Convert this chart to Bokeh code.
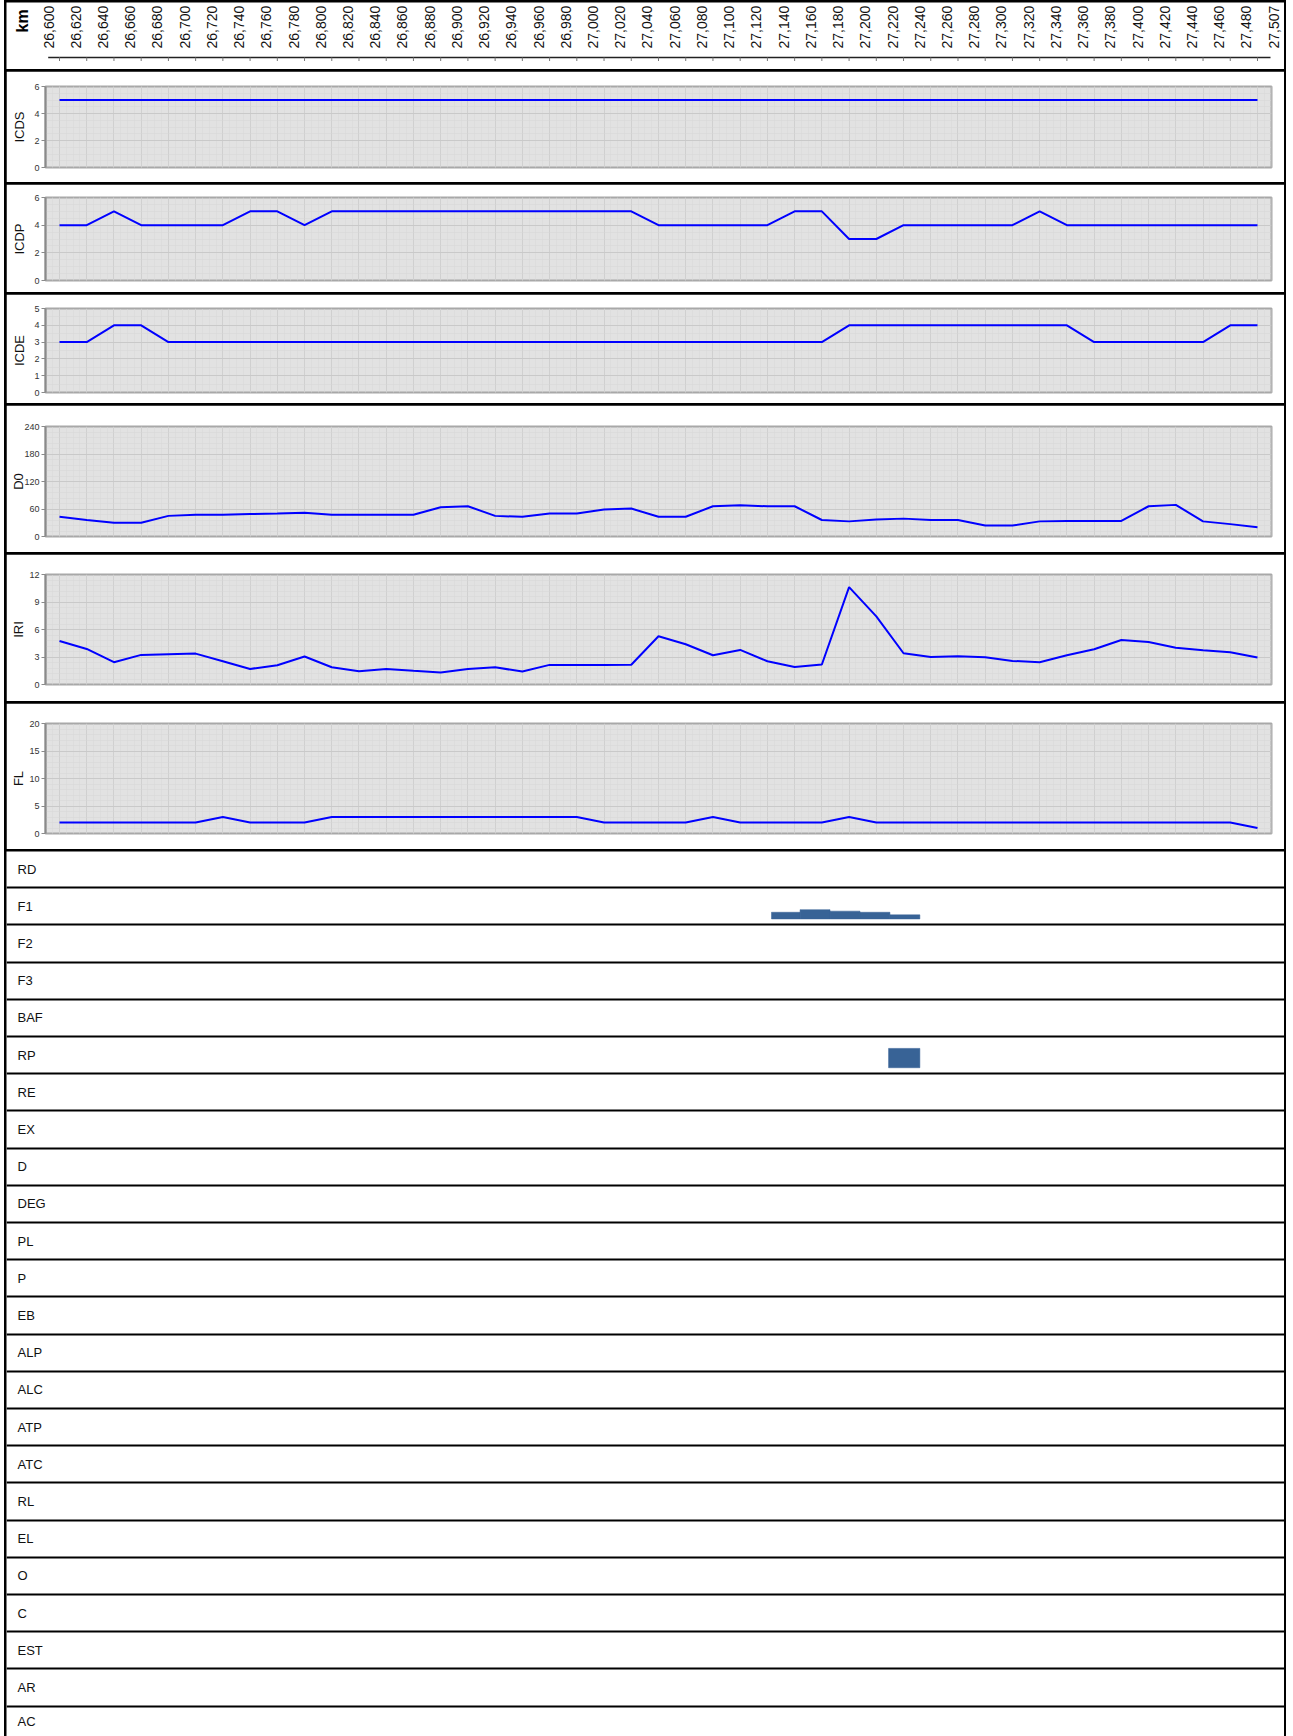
import math
from bokeh.plotting import figure
from bokeh.layouts import column
from bokeh.models import Range1d, FixedTicker, Grid
from bokeh.core.properties import value
from bokeh.embed import file_html
from bokeh.resources import INLINE

# ---------------- data ----------------
KM = [26600, 26620, 26640, 26660, 26680, 26700, 26720, 26740, 26760, 26780,
      26800, 26820, 26840, 26860, 26880, 26900, 26920, 26940, 26960, 26980,
      27000, 27020, 27040, 27060, 27080, 27100, 27120, 27140, 27160, 27180,
      27200, 27220, 27240, 27260, 27280, 27300, 27320, 27340, 27360, 27380,
      27400, 27420, 27440, 27460, 27480]

KM_LABELS = ["26,600", "26,620", "26,640", "26,660", "26,680", "26,700", "26,720", "26,740",
             "26,760", "26,780", "26,800", "26,820", "26,840", "26,860", "26,880", "26,900",
             "26,920", "26,940", "26,960", "26,980", "27,000", "27,020", "27,040", "27,060",
             "27,080", "27,100", "27,120", "27,140", "27,160", "27,180", "27,200", "27,220",
             "27,240", "27,260", "27,280", "27,300", "27,320", "27,340", "27,360", "27,380",
             "27,400", "27,420", "27,440", "27,460", "27,480", "27,507"]

ICDS = [5, 5, 5, 5, 5, 5, 5, 5, 5, 5, 5, 5, 5, 5, 5, 5, 5, 5, 5, 5, 5, 5, 5,
        5, 5, 5, 5, 5, 5, 5, 5, 5, 5, 5, 5, 5, 5, 5, 5, 5, 5, 5, 5, 5, 5]
ICDP = [4, 4, 5, 4, 4, 4, 4, 5, 5, 4, 5, 5, 5, 5, 5, 5, 5, 5, 5, 5, 5, 5, 4,
        4, 4, 4, 4, 5, 5, 3, 3, 4, 4, 4, 4, 4, 5, 4, 4, 4, 4, 4, 4, 4, 4]
ICDE = [3, 3, 4, 4, 3, 3, 3, 3, 3, 3, 3, 3, 3, 3, 3, 3, 3, 3, 3, 3, 3, 3, 3,
        3, 3, 3, 3, 3, 3, 4, 4, 4, 4, 4, 4, 4, 4, 4, 3, 3, 3, 3, 3, 4, 4]
D0 = [43, 36, 30, 30, 45, 47.5, 47.5, 49, 50, 52, 47.5, 47.5, 47.5, 47.5, 64,
      66, 45, 43, 50, 50, 59, 61, 43, 43, 66, 68, 66, 66, 36, 33,
      37, 39, 36, 36, 24, 24, 33, 34, 34, 34, 66, 69, 33, 27, 20]
IRI = [4.75, 3.88, 2.43, 3.23, 3.30, 3.37, 2.54, 1.70, 2.10, 3.05,
       1.88, 1.45, 1.70, 1.49, 1.30, 1.70, 1.88, 1.41, 2.14, 2.14,
       2.14, 2.16, 5.26, 4.39, 3.19, 3.77, 2.54, 1.92, 2.18, 10.62,
       7.43, 3.41, 3.00, 3.08, 2.97, 2.57, 2.43, 3.19, 3.84, 4.86,
       4.64, 4.02, 3.73, 3.52, 2.94]
FL = [2, 2, 2, 2, 2, 2, 3, 2, 2, 2, 3, 3, 3, 3, 3, 3, 3, 3, 3, 3, 2, 2, 2,
      2, 3, 2, 2, 2, 2, 3, 2, 2, 2, 2, 2, 2, 2, 2, 2, 2, 2, 2, 2, 2, 1]

ICDS_TICKS = [0, 2, 4, 6]
ICDP_TICKS = [0, 2, 4, 6]
ICDE_TICKS = [0, 1, 2, 3, 4, 5]
D0_TICKS = [0, 60, 120, 180, 240]
IRI_TICKS = [0, 3, 6, 9, 12]
FL_TICKS = [0, 5, 10, 15, 20]

ROWS = ["RD", "F1", "F2", "F3", "BAF", "RP", "RE", "EX", "D", "DEG", "PL", "P",
        "EB", "ALP", "ALC", "ATP", "ATC", "RL", "EL", "O", "C", "EST", "AR", "AC"]

# F1 (row "F1") segments: start km, end km, extent (% of row)
F1_FROM = [27123, 27144, 27166, 27188, 27210]
F1_TO = [27144, 27166, 27188, 27210, 27232]
F1_EXT = [18, 25, 21, 18, 11]
# RP segment
RP_FROM = [27209]
RP_TO = [27232]
RP_EXT = [52]

# ---------------- geometry / style ----------------
FONT = "Liberation Sans"
FIG_LEFT = 6                  # page x of every section's left edge
W = 1278                      # width of every section
PXKM = 27.227 / 20.0          # pixels per km
X0_PAGE = 59                  # page x of the first km
PANEL_L, PANEL_R = 45, 1271   # page x of plot areas


def km_at(px):
    return KM[0] + (px - X0_PAGE) / PXKM


XP = Range1d(km_at(PANEL_L), km_at(PANEL_R))
XF0, XF1 = km_at(FIG_LEFT), km_at(FIG_LEFT + W)
ALL = []


def mkfig(**kw):
    f = figure(width=W, toolbar_location=None, output_backend="svg", **kw)
    try:
        f.frame_align = False
    except AttributeError:
        pass
    ALL.append(f)
    return f


# ---------------- header ----------------
HEAD_H = 67
head = mkfig(height=HEAD_H, x_range=Range1d(XF0, XF1), y_range=Range1d(0, HEAD_H),
             min_border=0, x_axis_location=None, y_axis_location=None,
             outline_line_color=None, margin=(2, 2, 0, 2))
head.xgrid.visible = False
head.ygrid.visible = False
label_x = [KM[0] + 20 * j for j in range(len(KM_LABELS))]
head.text(x=label_x, y=[21] * len(label_x), text=KM_LABELS, angle=math.pi / 2,
          x_offset=-11, text_align="left", text_baseline="middle",
          text_font=value(FONT), text_font_size="14px", text_color="#111111")
head.text(x=[km_at(21.5)], y=[37], text=["km"], angle=math.pi / 2,
          text_align="left", text_baseline="middle", text_font=value(FONT),
          text_font_size="16px", text_font_style="bold", text_color="#000000")
head.segment(x0=[km_at(47.7)], x1=[km_at(1270)], y0=[12], y1=[12],
             line_color="#222222", line_width=1.3)
head.segment(x0=KM, x1=KM, y0=[12] * len(KM), y1=[8.5] * len(KM),
             line_color="#777777", line_width=1)


# ---------------- line panels ----------------
def panel(name, vals, ticks, height, top, bottom, standoff, minor):
    p = mkfig(height=height, x_range=XP, y_range=Range1d(ticks[0], ticks[-1]),
              x_axis_location=None, y_axis_location="left",
              min_border_left=PANEL_L - FIG_LEFT, min_border_right=FIG_LEFT + W - PANEL_R,
              min_border_top=top, min_border_bottom=bottom,
              background_fill_color="#e2e2e2", border_fill_color="#ffffff",
              outline_line_color="#a8a8a8", outline_line_width=2,
              margin=(0, 2, 0, 2))
    p.xgrid.visible = False
    p.ygrid.visible = False
    xmin = [KM[0] + 5 * k for k in range(-2, 4 * len(KM) + 2)]
    p.add_layout(Grid(dimension=0, ticker=FixedTicker(ticks=KM, minor_ticks=xmin),
                      grid_line_color="#d0d0d0", grid_line_width=1,
                      minor_grid_line_color="#d8d8d8", minor_grid_line_dash="1 1"), "center")
    p.add_layout(Grid(dimension=1, ticker=FixedTicker(ticks=ticks, minor_ticks=minor),
                      grid_line_color="#c9c9c9", grid_line_width=1,
                      minor_grid_line_color="#d6d6d6", minor_grid_line_dash="1 1"), "center")
    p.line(KM, vals, line_color="#0000ff", line_width=2)
    ax = p.yaxis[0]
    ax.ticker = FixedTicker(ticks=ticks)
    ax.axis_label = name
    ax.axis_label_text_font = FONT
    ax.axis_label_text_font_size = "13px"
    ax.axis_label_text_font_style = "normal"
    ax.axis_label_text_color = "#111111"
    ax.axis_label_standoff = standoff
    ax.major_label_text_font = FONT
    ax.major_label_text_font_size = "9px"
    ax.major_label_text_color = "#333333"
    ax.major_label_standoff = 2
    ax.major_tick_out = 4
    ax.major_tick_in = 0
    ax.minor_tick_out = 0
    ax.minor_tick_in = 0
    ax.axis_line_color = "#8a8a8a"
    ax.axis_line_width = 2
    ax.major_tick_line_color = "#8a8a8a"
    return p


def steps(t, n):
    return [t[0] + (t[-1] - t[0]) * k / n for k in range(n + 1)]


p_icds = panel("ICDS", ICDS, ICDS_TICKS, 111, 15, 15, 4, steps(ICDS_TICKS, 12))
p_icdp = panel("ICDP", ICDP, ICDP_TICKS, 108, 13, 12, 4, steps(ICDP_TICKS, 12))
p_icde = panel("ICDE", ICDE, ICDE_TICKS, 109, 14, 11, 4, steps(ICDE_TICKS, 10))
p_d0 = panel("D0", D0, D0_TICKS, 147, 21, 16, -5, steps(D0_TICKS, 20))
p_iri = panel("IRI", IRI, IRI_TICKS, 147, 20, 17, 0, steps(IRI_TICKS, 20))
p_fl = panel("FL", FL, FL_TICKS, 146, 20, 16, 0, steps(FL_TICKS, 20))

# ---------------- table of rows ----------------
ROW_PX = 37.2
ROWS_TOP_PAGE = 850
ROWS_H = 885
BASE = 0.16
y_top = (851 - ROWS_TOP_PAGE) / ROW_PX
y_bot = (851 + ROWS_H - ROWS_TOP_PAGE) / ROW_PX
rows = mkfig(height=ROWS_H, x_range=Range1d(XF0, XF1), y_range=Range1d(y_bot, y_top),
             min_border=0, x_axis_location=None, y_axis_location=None,
             outline_line_color=None, margin=(0, 2, 0, 2))
rows.xgrid.visible = False
rows.ygrid.visible = False
rows.add_layout(Grid(dimension=1, ticker=FixedTicker(ticks=list(range(1, len(ROWS)))),
                     grid_line_color="#000000", grid_line_width=2), "center")
row_mid = [(k + min(k + 1, y_bot)) / 2 for k in range(len(ROWS))]
rows.text(x=[km_at(17)] * len(ROWS), y=row_mid, text=ROWS,
          text_align="left", text_baseline="middle", text_font=value(FONT),
          text_font_size="13px", text_color="#111111")
i_f1 = ROWS.index("F1")
rows.quad(left=F1_FROM, right=F1_TO, bottom=[i_f1 + 1 - BASE] * len(F1_FROM),
          top=[i_f1 + 1 - BASE - e / 100 for e in F1_EXT],
          fill_color="#386396", line_color="#386396", line_width=0.5)
i_rp = ROWS.index("RP")
rows.quad(left=RP_FROM, right=RP_TO, bottom=[i_rp + 1 - BASE] * len(RP_FROM),
          top=[i_rp + 1 - BASE - e / 100 for e in RP_EXT],
          fill_color="#386396", line_color="#386396", line_width=0.5)

layout = column(*ALL, spacing=2, margin=(0, 0, 0, 4),
                styles={"background-color": "#000000"})

open("out.html", "w").write(file_html(layout, INLINE, "chart"))
